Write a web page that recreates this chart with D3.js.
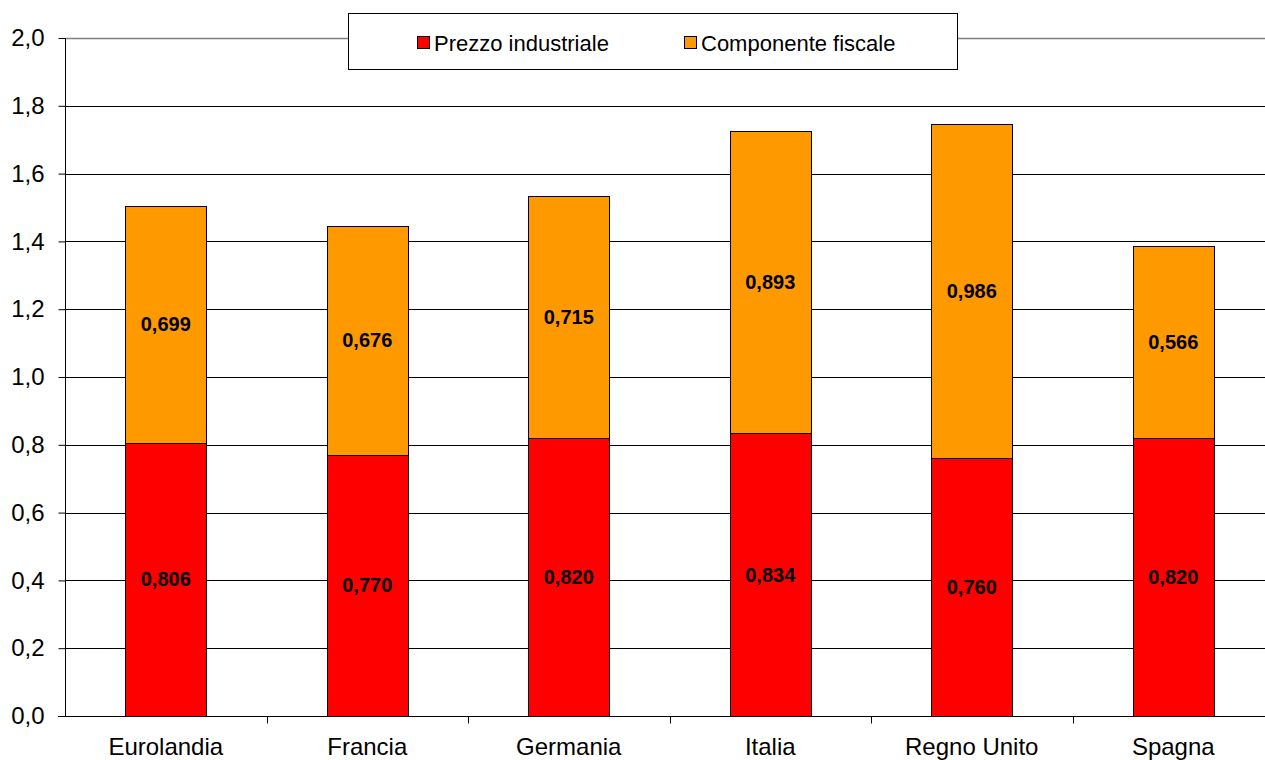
<!DOCTYPE html>
<html>
<head>
<meta charset="utf-8">
<script src="https://cdnjs.cloudflare.com/ajax/libs/d3/7.8.5/d3.min.js"></script>
<style>
  html, body { margin: 0; padding: 0; background: #fff; overflow: hidden; }
  svg { display: block; font-family: Arial, "Liberation Sans", sans-serif; }
</style>
</head>
<body>
<script>
'use strict';

// chart data
const countries = ["Eurolandia", "Francia", "Germania", "Italia", "Regno Unito", "Spagna"];
const prezzoIndustriale = [0.806, 0.770, 0.820, 0.834, 0.760, 0.820];
const componenteFiscale = [0.699, 0.676, 0.715, 0.893, 0.986, 0.566];
const seriesNames = ["Prezzo industriale", "Componente fiscale"];
const seriesColors = ["#ff0000", "#ff9900"];
const yTicks = [0, 0.2, 0.4, 0.6, 0.8, 1.0, 1.2, 1.4, 1.6, 1.8, 2.0];

const width = 1265, height = 760;
const margin = { left: 65, top: 38, bottom: 44 };
const plotRight = 1274;

const svg = d3.select('body').append('svg')
  .attr('width', width)
  .attr('height', height);

const fmt = (v, d) => v.toFixed(d).replace('.', ',');

// scales
const x = d3.scaleBand()
  .domain(countries)
  .range([margin.left, plotRight])
  .paddingInner(0.6)
  .paddingOuter(0.3);

const y = d3.scaleLinear()
  .domain([0, 2])
  .range([height - margin.bottom, margin.top]);

// gridlines
svg.append('g')
  .selectAll('line')
  .data(yTicks.filter(t => t > 0))
  .enter()
  .append('line')
    .attr('x1', margin.left)
    .attr('x2', plotRight)
    .attr('y1', d => Math.round(y(d)) + 0.5)
    .attr('y2', d => Math.round(y(d)) + 0.5)
    .attr('stroke', d => d === 2 ? '#808080' : '#000')
    .attr('stroke-width', d => d === 2 ? 1.5 : 1);

// stacked bars
const stackData = countries.map((c, i) => ({
  country: c,
  parts: [
    { y0: 0, y1: prezzoIndustriale[i], v: prezzoIndustriale[i], s: 0 },
    { y0: prezzoIndustriale[i], y1: prezzoIndustriale[i] + componenteFiscale[i], v: componenteFiscale[i], s: 1 }
  ]
}));

const groups = svg.append('g')
  .selectAll('g')
  .data(stackData)
  .enter()
  .append('g');

groups.selectAll('rect')
  .data(d => d.parts.map(p => Object.assign({ country: d.country }, p)))
  .enter()
  .append('rect')
    .attr('x', d => Math.round(x(d.country)) + 0.5)
    .attr('y', d => Math.round(y(d.y1)) + 0.5)
    .attr('width', Math.round(x.bandwidth()))
    .attr('height', d => Math.round(y(d.y0)) - Math.round(y(d.y1)))
    .attr('fill', d => seriesColors[d.s])
    .attr('stroke', '#000')
    .attr('stroke-width', 1);

groups.selectAll('text')
  .data(d => d.parts.map(p => Object.assign({ country: d.country }, p)))
  .enter()
  .append('text')
    .attr('x', d => x(d.country) + x.bandwidth() / 2)
    .attr('y', d => y((d.y0 + d.y1) / 2) + 7)
    .attr('text-anchor', 'middle')
    .style('font-size', '20px')
    .style('font-weight', 'bold')
    .text(d => fmt(d.v, 3));

// y axis
const yAxis = d3.axisLeft(y)
  .tickValues(yTicks)
  .tickSize(7)
  .tickPadding(14)
  .tickFormat(d => fmt(d, 1));

const gy = svg.append('g')
  .attr('transform', `translate(${margin.left + 0.5},0)`)
  .call(yAxis);
gy.select('.domain').attr('stroke', '#000').attr('d', `M0,${y(2)}V${y(0)}`);
gy.selectAll('.tick line').attr('stroke', '#000');
gy.selectAll('.tick text')
  .style('font-size', '24px')
  .style('font-family', 'Arial, "Liberation Sans", sans-serif')
  .attr('fill', '#000');

// x axis
const gx = svg.append('g')
  .attr('transform', `translate(0,${Math.round(y(0)) + 0.5})`);
gx.append('line')
  .attr('x1', margin.left - 7)
  .attr('x2', plotRight)
  .attr('stroke', '#000');
gx.selectAll('.sep')
  .data(d3.range(1, countries.length))
  .enter()
  .append('line')
    .attr('x1', i => Math.round(margin.left + i * (plotRight - margin.left) / countries.length) + 0.5)
    .attr('x2', i => Math.round(margin.left + i * (plotRight - margin.left) / countries.length) + 0.5)
    .attr('y1', 0)
    .attr('y2', 7)
    .attr('stroke', '#000');
gx.selectAll('.lab')
  .data(countries)
  .enter()
  .append('text')
    .attr('x', d => x(d) + x.bandwidth() / 2)
    .attr('y', 38)
    .attr('text-anchor', 'middle')
    .style('font-size', '24px')
    .text(d => d);

// legend
const legend = svg.append('g');
legend.append('rect')
  .attr('x', 348.5)
  .attr('y', 13.5)
  .attr('width', 609)
  .attr('height', 56)
  .attr('fill', '#fff')
  .attr('stroke', '#000');

const legendX = [417, 684];
seriesNames.forEach((name, i) => {
  legend.append('rect')
    .attr('x', legendX[i] + 0.5)
    .attr('y', 36.5)
    .attr('width', 12)
    .attr('height', 12)
    .attr('fill', seriesColors[i])
    .attr('stroke', '#000');
  legend.append('text')
    .attr('x', legendX[i] + 17)
    .attr('y', 51)
    .style('font-size', '22px')
    .text(name);
});
</script>
</body>
</html>
